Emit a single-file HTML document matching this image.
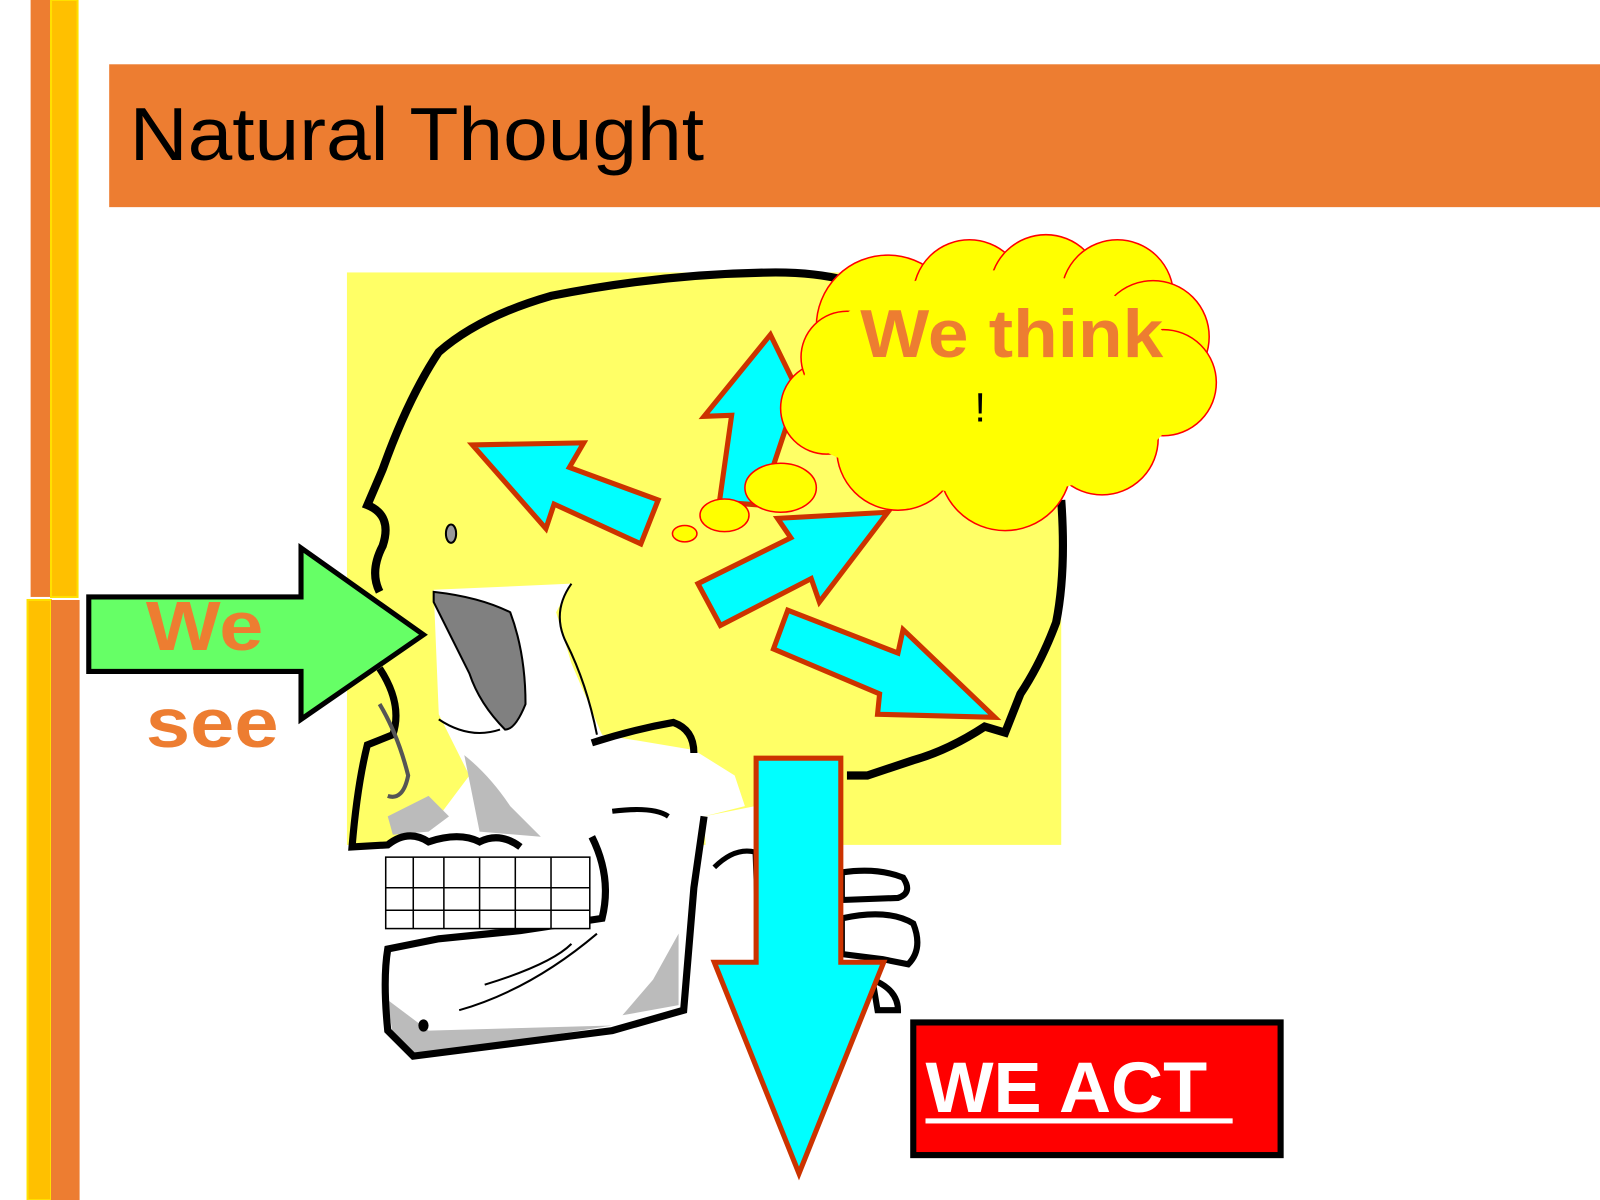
<!DOCTYPE html>
<html><head><meta charset="utf-8"><style>html,body{margin:0;padding:0;background:#fff}svg{display:block}</style></head>
<body>
<svg width="1600" height="1200" viewBox="0 0 1568 1176" xmlns="http://www.w3.org/2000/svg">
<rect width="1568" height="1176" fill="#fff"/>
<!-- left bars -->
<rect x="30" y="0" width="20" height="585" fill="#ED7D31"/>
<rect x="50" y="0" width="26" height="585" fill="#FFC000" stroke="#FFE000" stroke-width="2"/>
<rect x="27" y="588" width="23" height="588" fill="#FFC000" stroke="#FFE000" stroke-width="2"/>
<rect x="50" y="588" width="28" height="588" fill="#ED7D31"/>
<!-- title -->
<rect x="107" y="63" width="1461" height="140" fill="#ED7D31"/>
<text x="127" y="157" font-family="Liberation Sans, sans-serif" font-size="74" fill="#000" textLength="563" lengthAdjust="spacingAndGlyphs">Natural Thought</text>
<!-- yellow backdrop -->
<rect x="340" y="267" width="700" height="561" fill="#FFFF66"/>
<!-- white face / jaw -->
<path d="M425,578 L560,572 L545,600 L560,650 L590,720 L680,735 L720,760 L730,790 L690,800 L680,850 L690,990 L600,1010 L410,1035 L380,1010 L375,930 L365,880 L375,830 L430,800 L460,760 L430,700 Z" fill="#fff"/>
<path d="M690,800 L740,790 L745,830 L760,990 L700,995 Z" fill="#fff"/>
<!-- gray shading -->
<path d="M425,580 Q470,585 500,600 Q515,640 515,690 Q505,715 495,715 Q470,690 460,660 Q440,620 425,590 Z" fill="#808080" stroke="#000" stroke-width="2"/>
<path d="M455,740 Q480,760 500,790 L530,820 L470,815 Z" fill="#bbb"/>
<path d="M380,800 L420,780 L440,800 L420,815 L385,818 Z" fill="#bbb"/>
<path d="M640,960 L665,915 L665,985 L610,995 Z" fill="#bbb"/>
<path d="M380,980 L420,1010 L600,1005 L410,1035 L385,1015 Z" fill="#bbb"/>
<!-- skull outline -->
<path d="M372,580 Q362,560 375,535 Q385,505 360,495 L375,460 Q400,390 430,345 Q470,310 540,290 Q650,268 760,267 Q800,267 830,275" fill="none" stroke="#000" stroke-width="8"/>
<path d="M1040,490 Q1045,560 1035,610 Q1020,650 1000,680 L985,718 L965,712 Q930,735 895,745 L850,760 L830,760" fill="none" stroke="#000" stroke-width="8"/>
<path d="M365,600 L382,625 M372,655 Q395,690 385,720 L360,730 Q350,770 345,830 L380,828 Q400,812 420,825 Q450,815 470,825 Q490,815 510,830" fill="none" stroke="#000" stroke-width="7"/>
<path d="M580,728 Q620,715 660,708 Q680,715 680,738" fill="none" stroke="#000" stroke-width="7"/>
<path d="M560,572 Q540,600 555,630 Q575,670 585,720" fill="none" stroke="#000" stroke-width="2"/>
<path d="M430,705 Q460,725 490,715" fill="none" stroke="#000" stroke-width="2"/>
<path d="M372,690 Q390,720 400,760 Q395,785 380,780" fill="none" stroke="#555" stroke-width="4"/>
<ellipse cx="442" cy="523" rx="5" ry="9" fill="#999" stroke="#000" stroke-width="2"/>
<!-- jaw outline -->
<path d="M580,820 Q600,860 590,900 L510,912 L430,920 L380,930 Q375,960 380,1010 L405,1035 L600,1010 L670,990 L680,870 L690,800" fill="none" stroke="#000" stroke-width="7"/>
<path d="M600,795 Q640,790 655,800" fill="none" stroke="#000" stroke-width="5"/>
<path d="M700,850 Q720,830 740,835 L745,980" fill="none" stroke="#000" stroke-width="5"/>
<path d="M450,990 Q520,970 585,915 M475,965 Q540,945 560,925" fill="none" stroke="#000" stroke-width="2"/>
<ellipse cx="415" cy="1005" rx="5" ry="6" fill="#000"/>
<!-- teeth -->
<g fill="#fff" stroke="#000" stroke-width="1.5">
<rect x="378" y="840" width="200" height="70" fill="#fff"/>
<path d="M378,870 H578 M378,892 H578 M405,840 V910 M435,840 V910 M470,840 V910 M505,840 V910 M540,840 V910"/>
</g>
<!-- vertebrae -->
<g fill="#fff" stroke="#000" stroke-width="6">
<path d="M825,855 Q860,850 885,860 Q895,875 880,880 L825,882 Z"/>
<path d="M825,900 Q870,890 895,905 Q905,930 890,945 L865,940 L825,935 Z"/>
<path d="M855,960 Q880,970 880,990 L860,990 Z"/>
</g>
<!-- cyan arrows -->
<g fill="#00FFFF" stroke="#CC3300" stroke-width="5" stroke-linejoin="miter">
<polygon points="463,436 572,434 558,458 645,490 628,533 543,494 535,518"/>
<polygon points="755,328 800,420 770,420 745,495 705,492 717,407 690,408"/>
<polygon points="870,502 803,590 795,567 706,613 684,572 775,527 762,508"/>
<polygon points="975,703 860,700 862,680 758,636 772,598 880,640 885,617"/>
<polygon points="741,743 824,743 824,943 866,943 783,1150 700,943 741,943"/>
</g>
<!-- cloud -->
<g fill="#FFFF00" stroke="#FF0000" stroke-width="1.5">
<circle cx="870" cy="320" r="70"/>
<circle cx="950" cy="290" r="55"/>
<circle cx="1025" cy="285" r="55"/>
<circle cx="1095" cy="290" r="55"/>
<circle cx="1130" cy="330" r="55"/>
<circle cx="1140" cy="375" r="52"/>
<circle cx="1080" cy="430" r="55"/>
<circle cx="985" cy="455" r="65"/>
<circle cx="880" cy="440" r="60"/>
<circle cx="810" cy="400" r="45"/>
<circle cx="830" cy="350" r="45"/>
</g>
<ellipse cx="975" cy="375" rx="185" ry="110" fill="#FFFF00"/>
<ellipse cx="855" cy="395" rx="75" ry="60" fill="#FFFF00"/>
<g fill="#FFFF00" stroke="#FF0000" stroke-width="1.5">
<ellipse cx="765" cy="478" rx="35" ry="24"/>
<ellipse cx="710" cy="505" rx="24" ry="16"/>
<ellipse cx="671" cy="523" rx="12" ry="8"/>
</g>
<text x="843" y="350" font-family="Liberation Sans, sans-serif" font-weight="bold" font-size="66" fill="#ED7D31" textLength="297" lengthAdjust="spacingAndGlyphs">We think</text>
<text x="955" y="413" font-family="Liberation Sans, sans-serif" font-size="40" fill="#000">!</text>
<!-- green arrow -->
<polygon points="87,585 295,585 295,537 415,622 295,705 295,658 87,658" fill="#66FF66" stroke="#000" stroke-width="5"/>
<text x="143" y="637" font-family="Liberation Sans, sans-serif" font-weight="bold" font-size="68" fill="#ED7D31" textLength="115" lengthAdjust="spacingAndGlyphs">We</text>
<text x="143" y="732" font-family="Liberation Sans, sans-serif" font-weight="bold" font-size="68" fill="#ED7D31" textLength="130" lengthAdjust="spacingAndGlyphs">see</text>
<!-- WE ACT -->
<rect x="895" y="1002" width="360" height="130" fill="#FF0000" stroke="#000" stroke-width="6"/>
<text x="907" y="1090" font-family="Liberation Sans, sans-serif" font-weight="bold" font-size="70" fill="#fff" textLength="276" lengthAdjust="spacingAndGlyphs">WE ACT</text>
<rect x="907" y="1096" width="301" height="5" fill="#fff"/>
</svg>
</body></html>
